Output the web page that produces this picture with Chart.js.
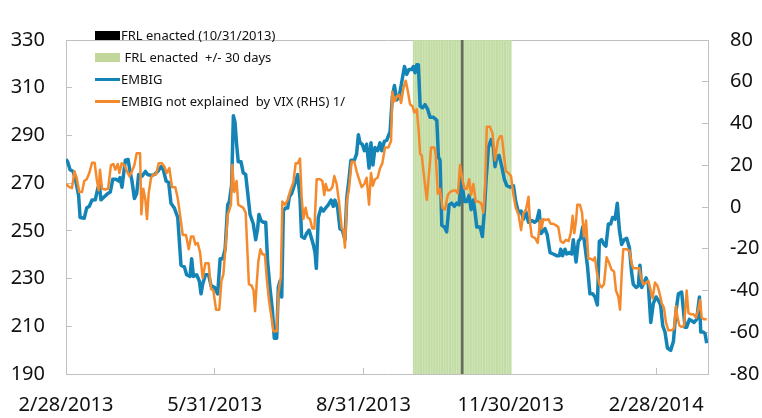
<!DOCTYPE html>
<html lang="en">
<head>
<meta charset="UTF-8">
<title>EMBIG and the FRL</title>
<script src="https://cdn.jsdelivr.net/npm/chart.js"></script>
<style>
  body { margin: 0; background: #fff; font-family: "Noto Sans", sans-serif; }
  #wrap { position: relative; width: 762px; height: 418px; }
  #legend { position: absolute; left: 95px; top: 24px; font-size: 13px; color: #111; }
  .item { position: absolute; left: 0; height: 22px; display: flex; align-items: center; white-space: pre; }
  .mark { display: inline-block; width: 25px; margin-right: 1px; }
</style>
</head>
<body>
<div id="wrap">
  <canvas id="chart" width="762" height="418"></canvas>
  <div id="legend"></div>
</div>
<script>
// x values are calendar days after 2/28/2013
const tickDays = [0, 92, 184, 275, 365];
const tickLabels = ['2/28/2013', '5/31/2013', '8/31/2013', '11/30/2013', '2/28/2014'];

const frlDays = [245]; // 10/31/2013
const windowDays = [215, 216, 217, 218, 219, 220, 221, 222, 223, 224, 225, 226, 227, 228, 229, 230,
  231, 232, 233, 234, 235, 236, 237, 238, 239, 240, 241, 242, 243, 244, 245, 246, 247, 248, 249, 250,
  251, 252, 253, 254, 255, 256, 257, 258, 259, 260, 261, 262, 263, 264, 265, 266, 267, 268, 269, 270,
  271, 272, 273, 274, 275];

// EMBIG spread (left axis)
const embigDays = [0, 1, 2.5, 4.5, 6.2, 7.8, 8.7, 11.3, 12.8, 14.4, 16.1, 18.1, 19.6, 20.6, 21.6, 23.7,
  25.8, 27.4, 28.9, 30.9, 32.6, 33.4, 34.6, 36.7, 38.4, 39.6, 40.8, 42.3, 43.7, 44.9, 47, 49.1, 50.5,
  52.6, 54.6, 56.7, 58.8, 60.2, 61.9, 63.5, 64.9, 67, 69.1, 71.1, 73.2, 74.6, 76.7, 77.7, 78.8, 80.8,
  82.5, 83.5, 84.5, 86.2, 88.2, 89.7, 91.8, 93.8, 95.3, 96.9, 98.4, 100, 101, 102.4, 103.5, 104.5,
  105.5, 106.5, 108.2, 109.6, 111.1, 112.3, 113.8, 115.8, 117.3, 118.5, 119.3, 120.6, 122, 123.5,
  124.7, 126.1, 127.6, 128.8, 130.3, 131.3, 132.3, 133.4, 134.4, 135.8, 137.1, 138.1, 139.5, 140.8,
  142, 143.3, 144.7, 145.7, 147.4, 148.8, 150.3, 151.5, 152.9, 154, 154.8, 156, 157.7, 159.1, 160.6,
  162.2, 163.9, 165.3, 166.3, 168, 169.4, 170.9, 172.5, 173.6, 175, 176.2, 178.3, 179.7, 180.8, 181.8,
  183.2, 184.5, 185.9, 187.4, 188.6, 189.8, 191.1, 192.7, 194.2, 195.2, 196.9, 198.3, 200.4, 201.8,
  203.1, 204.5, 206, 207.6, 209.3, 210.7, 212.1, 213.8, 214.8, 215.9, 216.9, 217.9, 219, 220.4, 222,
  223.7, 225.1, 227.2, 229.3, 230.3, 231.3, 232.4, 234, 235.4, 236.9, 238.5, 240.2, 241.6, 243.1,
  244.3, 245.3, 246.4, 247.8, 249.3, 250.5, 251.9, 253, 254, 256.1, 257.5, 258.7, 259.8, 261.2, 262.9,
  264.3, 265.3, 266.4, 267.8, 269.5, 271.1, 272.6, 274.6, 276.7, 278.1, 279.8, 281.4, 282.9, 284.3,
  286, 288, 289.7, 291.1, 292.6, 293.8, 296.2, 297.6, 299.3, 301.3, 303.4, 305.1, 305.9, 307.1, 308.6,
  309.6, 311.2, 312.7, 313.7, 315.4, 316.8, 318.3, 319.5, 320.9, 322.4, 324, 325.7, 327.1, 328.6,
  329.8, 331.2, 332.7, 333.9, 335.4, 336.8, 338, 339.5, 340.9, 342.2, 343.6, 345.1, 346.7, 348.4,
  349.8, 350.8, 352.5, 353.9, 354.9, 356, 357.4, 358.7, 360.1, 361.6, 363.2, 364.9, 366.3, 367.7, 369,
  370.4, 371.9, 373.9, 375.6, 377.2, 378.7, 380.7, 381.8, 382.8, 383.8, 385.5, 386.9, 388.4, 390,
  391.7, 392.5, 394.1, 395.2, 396.2];
const embigValues = [280, 279, 275.6, 274.9, 270.3, 264.9, 255.6, 255.3, 259.6, 260.3, 262.9, 263,
  267.6, 269.6, 263, 264.3, 265.6, 266.3, 271.6, 271.6, 270.9, 272.3, 268.3, 279.6, 279.9, 274.9,
  270.9, 263.6, 265.6, 273.6, 272.9, 274.9, 273.6, 273.2, 273.6, 274.9, 276.9, 275.6, 270.9, 270.3,
  261.6, 259.6, 255.6, 235.6, 234.9, 231.6, 230.9, 238.3, 230.9, 231.6, 228.9, 223.6, 227.6, 231.6,
  231.6, 227, 226.3, 223.6, 238.3, 238.3, 242.3, 260.9, 262.3, 269, 298.3, 295.6, 286.3, 279, 279,
  274.3, 273.6, 266.3, 256.9, 253, 246.3, 250.9, 256.9, 254.3, 253.6, 253.6, 236.9, 226.3, 216.9,
  205, 205, 226.3, 228.9, 222.3, 258.3, 259.6, 259.6, 264.3, 265.6, 268.3, 270.9, 273.6, 263.6,
  247.6, 246.9, 248.9, 250.3, 247.6, 244.3, 240.9, 234.3, 255.6, 259.6, 258.3, 259.6, 260.9, 262.9,
  260.3, 262.9, 259.6, 250.9, 250.3, 246.3, 263.6, 271.6, 279.6, 279.6, 282.3, 290.3, 286.9, 286.3,
  283.6, 286.3, 276.3, 286.9, 277.6, 284.9, 283.6, 286.9, 283.6, 287.6, 287.9, 291.6, 306.3, 310.9,
  304.9, 306.3, 312.3, 318.9, 315.6, 317.6, 317.6, 318.9, 316.3, 319.6, 319.6, 302.3, 301.6, 302.9,
  300.9, 297.6, 297.6, 296.3, 280.9, 279.6, 252.3, 251.6, 249.6, 260.9, 261.6, 260.3, 261.6, 260.9,
  272.3, 267.6, 262.3, 262.3, 264.9, 258.9, 262.9, 257.6, 251.6, 251.6, 247.6, 258.3, 271.6, 284.9,
  288.3, 284.9, 276.9, 280.9, 281.6, 276.9, 271.6, 268.9, 268.3, 268.9, 262.3, 257.6, 258.3, 254.9,
  258.3, 253.6, 254.3, 253.6, 254.3, 258.5, 248.9, 250.9, 248.3, 240.9, 240.3, 239.6, 239.6, 242.3,
  239.6, 242.3, 240.3, 240.9, 240.3, 246.3, 236.9, 245.6, 246.9, 251.6, 243.6, 235.6, 223.6, 223.6,
  222.3, 218.9, 245.6, 246.3, 244.3, 243.6, 252.9, 252.9, 255.6, 254.9, 261.6, 250.3, 244.3, 246.3,
  246.9, 242.9, 232.3, 227.6, 226.3, 226.9, 235.6, 226.3, 228.3, 230.3, 227.6, 211.6, 219.6, 222.3,
  220.9, 218.9, 210.3, 207.6, 200.9, 199.9, 203.6, 216.3, 223.6, 224.3, 216.9, 209.6, 209.6, 212.9,
  212.3, 211.6, 212.9, 222.3, 207.6, 207.6, 206.9, 202.9];

// EMBIG not explained by VIX (right axis)
const residDays = [0, 2.1, 3.7, 5.2, 6.6, 8.2, 9.9, 11.3, 12.8, 14.4, 16.1, 17.7, 19, 20.2, 21, 22.3,
  24.3, 26, 27.8, 29.3, 30.5, 32, 33, 34.4, 36.1, 37.5, 39.2, 40.8, 42.3, 43.7, 45.8, 46.6, 47.8,
  49.1, 50.1, 51.1, 52.6, 54, 55.7, 57.3, 59.4, 60.8, 62.3, 63.9, 65.6, 67.6, 69.1, 70.5, 72.2, 74.2,
  75.9, 77.3, 78.8, 80, 81.4, 82.9, 84.5, 86.2, 88.2, 89.7, 91.1, 92.8, 94.8, 96.1, 97.3, 98.6, 100,
  100.8, 102, 102.8, 104.1, 105.5, 106.5, 108.2, 109.6, 111.1, 112.3, 113.1, 114.8, 116, 116.9, 117.9,
  118.9, 120.2, 121.4, 123, 124.3, 125.5, 127.2, 128.2, 130.3, 131.3, 132.9, 133.8, 135.4, 137.1,
  137.9, 139.1, 140.6, 142, 143.3, 144.7, 145.7, 146.8, 148.2, 149.4, 150.9, 152.3, 153.6, 155, 157.1,
  158.5, 159.7, 160.6, 161.8, 163.2, 164.7, 165.9, 167.4, 168.8, 170.5, 171.5, 172.5, 173.6, 175,
  176.6, 178.3, 179.7, 181.2, 182.8, 184.5, 185.9, 187.4, 188.6, 189.8, 191.1, 192.7, 194.2, 195.6,
  197.3, 199.3, 201, 201.8, 203.1, 204.5, 206, 207.2, 208.6, 210.1, 211.3, 212.8, 214.2, 215.4, 216.9,
  217.9, 219, 220, 221.6, 223.1, 224.5, 225.8, 227.8, 228.6, 229.9, 231.3, 232.8, 234.4, 236.1, 237.5,
  239.6, 241, 242.3, 243.7, 245.1, 246.4, 247.8, 249.3, 250.5, 251.9, 253.4, 255, 256.7, 258.1, 259.2,
  260.2, 262.2, 263.7, 265.3, 267, 268.4, 269.5, 270.5, 272, 273.6, 275.2, 276.7, 278.1, 279.8, 281.4,
  282.9, 284.3, 286, 287, 288, 290.1, 291.7, 293.2, 294.1, 295.2, 296.8, 298.3, 299.7, 301.3, 303,
  304.4, 305.9, 307.5, 309.2, 310.8, 312.1, 313.3, 314.3, 315.4, 316.2, 317.8, 319.1, 320.3, 321.6,
  323, 324.4, 326.1, 327.1, 328.2, 329.8, 331.2, 332.7, 334.3, 336, 337.4, 338.9, 340.1, 341.6, 342.6,
  343.6, 344.6, 346.7, 348.4, 349.8, 350.8, 352.9, 354.5, 355.6, 357, 358.7, 360.1, 361.6, 362.8,
  364.2, 365.7, 366.9, 368.4, 369.8, 371, 372.5, 374.5, 376, 377.2, 378, 379.3, 380.7, 382.2, 383.8,
  384.9, 386.3, 388, 389.6, 391, 392.1, 393.1, 394.5, 396.2];
const residValues = [11, 9.5, 9, 17.1, 14, 7.2, 7.2, 12.5, 13.3, 16.3, 21.2, 21.2, 13.3, 8, 17.9,
  8.7, 8.4, 8.7, 20.1, 20.6, 17.9, 20.6, 16.3, 20.9, 20.1, 17.5, 14.8, 17.1, 20.1, 25.8, 25.8, -3.5,
  8.7, 3.4, -5.8, 6.4, 14, 15.6, 15.6, 20.9, 20.9, 19.4, 16.3, 18.6, 9.5, 9.5, 4.2, -3.5, -13.4,
  -13.4, -20.2, -14.1, -14.1, -18, -17.2, -21.7, -34, -27, -27, -39.3, -40, -49.2, -49.2, -35.4,
  -32.4, -19.5, -3.5, -2, 1.1, 20.1, 7.2, 12.5, 1.1, 0.3, -0.4, -2.7, -23.3, -37, -37.7, -40, -49.9,
  -37, -26.3, -20.2, -22.5, -23, -35.4, -44.6, -53.7, -59.5, -59.5, -41.5, -33.2, 2.6, 1.1, 3.4, 5.7,
  8.7, 11.8, 20.9, 20.9, 23.2, 4.9, -5.8, -0.4, -5, -5.8, -10.3, -10.3, 13.3, 13.3, 12.5, 5.7, 11, 8,
  8, 9.5, 14.8, 11, 2.6, -10.3, -11.1, -19.5, 2.6, 8.7, 21.7, 21.7, 17.1, 13.3, 9.5, 11, 14, 1.1,
  16.3, 10.2, 13.3, 14, 18.6, 20.9, 28.5, 28.5, 31.6, 55.2, 50.6, 52.9, 53.7, 49.8, 56.7, 60.5, 55.9,
  49.1, 48.3, 45.3, 46.8, 38.4, 25.5, 24.7, 13.3, 3.4, 16.3, 28.5, 28.5, 25.5, 6.4, 8.7, -0.4, -1.2,
  5.7, 7.2, 7.9, 7.9, 6.4, 20.1, 13.3, 8.7, 8.7, 13.3, 5.7, 11, 2.6, 2.6, 1.9, -2.7, 10.2, 38.4,
  38.4, 35.4, 22.4, 31.6, 33.9, 33.9, 27, 17.1, 16.3, 14.8, 5.7, -0.4, -3.5, -11.1, -2.7, -1.9, 4.9,
  -8, -14.1, -14.9, -17.2, -6.5, -10.3, -5.8, -6.2, -5.8, -8, -8, -8.8, -9.6, -16.4, -17.2, -15.7,
  -16.4, -12.6, -4.2, -12.6, -6.5, 1.1, 1.1, -2.7, -14.1, -6.5, -24.8, -24.8, -25.6, -24.1, -30.9,
  -37, -38.5, -37, -24.1, -27.1, -30.1, -30.9, -40, -43.1, -49.2, -32.4, -20.2, -20.2, -21, -27.1,
  -29.4, -29.4, -29.4, -34, -37, -36.2, -35.4, -40, -43.8, -36.2, -37.7, -40.8, -46.1, -48.4, -55.3,
  -59.1, -59.1, -58.3, -47.6, -52.2, -56.8, -57.5, -56.8, -40, -50.7, -51.4, -51.4, -53, -49.2,
  -44.6, -53, -53.8, -53.8];

const leftMin = 190, leftMax = 330;

const pts = (xs, ys) => xs.map((x, i) => ({ x: x, y: ys[i] }));
const axisGray = '#c0c0c0';
const tickFont = { family: 'Noto Sans', size: 20 };

const datasets = [
  {
    type: 'bar', label: 'FRL enacted (10/31/2013)',
    data: frlDays.map(d => ({ x: d, y: leftMax })),
    backgroundColor: 'rgba(60,60,60,0.7)', barThickness: 2, grouped: false,
    yAxisID: 'y', order: 2, legendColor: '#000', legendKind: 'box'
  },
  {
    type: 'bar', label: ' FRL enacted  +/- 30 days',
    data: windowDays.map(d => ({ x: d, y: leftMax })),
    backgroundColor: '#c2dca4', barThickness: 1, grouped: false,
    yAxisID: 'y', order: 3, legendColor: '#c3d69b', legendKind: 'box'
  },
  {
    type: 'line', label: 'EMBIG',
    data: pts(embigDays, embigValues),
    borderColor: '#1484b6', borderWidth: 3.5, pointRadius: 0, tension: 0,
    borderJoinStyle: 'round', yAxisID: 'y', order: 1, legendColor: '#1484b6', legendKind: 'line'
  },
  {
    type: 'line', label: 'EMBIG not explained  by VIX (RHS) 1/',
    data: pts(residDays, residValues),
    borderColor: '#f58a2c', borderWidth: 2.5, pointRadius: 0, tension: 0,
    borderJoinStyle: 'round', yAxisID: 'y1', order: 0, legendColor: '#f58a2c', legendKind: 'line'
  }
];

new Chart(document.getElementById('chart').getContext('2d'), {
  data: { datasets: datasets },
  options: {
    responsive: false,
    animation: false,
    devicePixelRatio: 1,
    layout: { padding: { top: 24, left: 0, right: 0, bottom: 0 } },
    plugins: { legend: { display: false }, tooltip: { enabled: false } },
    scales: {
      x: {
        type: 'linear', position: 'bottom', min: 0, max: 397, offset: false,
        afterBuildTicks: s => { s.ticks = tickDays.map(v => ({ value: v })); },
        afterFit: s => { s.height = 44; s.paddingLeft = 0; s.paddingRight = 0; },
        ticks: {
          callback: v => tickLabels[tickDays.indexOf(v)],
          autoSkip: false, maxRotation: 0, padding: 25, color: '#111', font: tickFont
        },
        grid: { drawOnChartArea: false, tickLength: -6, color: axisGray, offset: false },
        border: { color: axisGray }
      },
      xTop: {
        type: 'linear', position: 'top', min: 0, max: 397, offset: false,
        afterFit: s => { s.height = 0; s.paddingLeft = 0; s.paddingRight = 0; },
        ticks: { display: false },
        grid: { display: false },
        border: { display: true, color: axisGray }
      },
      y: {
        position: 'left', min: leftMin, max: leftMax,
        afterFit: s => { s.width = 66; },
        ticks: { stepSize: 20, padding: 27, color: '#111', font: tickFont },
        grid: { drawOnChartArea: false, tickLength: -6, color: axisGray },
        border: { color: axisGray }
      },
      y1: {
        position: 'right', min: -80, max: 80,
        afterFit: s => { s.width = 54; },
        ticks: { stepSize: 20, padding: 28, color: '#111', font: tickFont },
        grid: { drawOnChartArea: false, tickLength: -6, color: axisGray },
        border: { color: axisGray }
      }
    }
  }
});

// legend inside the plot, one entry per row
const legend = document.getElementById('legend');
datasets.forEach((ds, i) => {
  const row = document.createElement('div');
  row.className = 'item';
  row.style.top = (i * 22) + 'px';
  const mark = document.createElement('span');
  mark.className = 'mark';
  mark.style.background = ds.legendColor;
  mark.style.height = ds.legendKind === 'box' ? '9px' : '3px';
  row.appendChild(mark);
  row.appendChild(document.createTextNode(ds.label));
  legend.appendChild(row);
});
</script>
</body>
</html>
